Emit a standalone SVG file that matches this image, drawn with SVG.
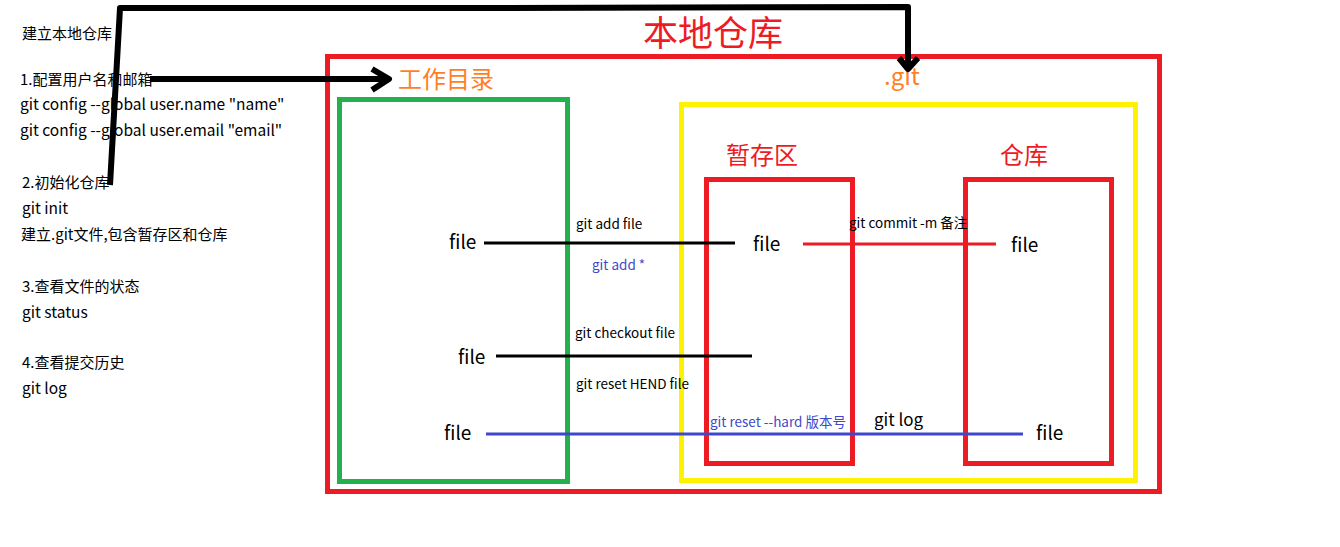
<svg xmlns="http://www.w3.org/2000/svg" width="1340" height="547" viewBox="0 0 1340 547">
<style>
text{font-family:"Noto Sans CJK SC","Noto Sans",sans-serif;fill:#000}
.note{font-size:15px}
.cmd{font-size:15.5px}
.lbl{font-size:13.5px}
.file{font-size:19px}
.blue{fill:#3f48cc}
.red{fill:#ed1c24}
.orange{fill:#ff7f27}
.box{fill:none;stroke-width:5}
.conn{fill:none;stroke-width:3}
.thick{fill:none;stroke:#000;stroke-width:6;stroke-linejoin:round}
</style>
<rect width="1340" height="547" fill="#fff"/>
<g id="notes">
<text class="note" x="22" y="39">建立本地仓库</text>
<text class="note" x="20" y="85">1.配置用户名和邮箱</text>
<text class="cmd" x="20" y="110">git config --global user.name "name"</text>
<text class="cmd" x="20" y="136">git config --global user.email "email"</text>
<text class="note" x="22" y="188">2.初始化仓库</text>
<text class="cmd" x="22" y="214">git init</text>
<text class="note" x="21" y="240">建立.git文件,包含暂存区和仓库</text>
<text class="note" x="22" y="292">3.查看文件的状态</text>
<text class="cmd" x="22" y="318">git status</text>
<text class="note" x="22" y="368">4.查看提交历史</text>
<text class="cmd" x="22" y="394">git log</text>
</g>
<g id="local-repo">
<rect class="box" x="327.5" y="56.5" width="832" height="435" stroke="#ed1c24"/>
<text class="red" x="643" y="46" font-size="35">本地仓库</text>
</g>
<g id="workdir">
<rect class="box" x="339.5" y="99.5" width="228" height="382" stroke="#22b14c"/>
<text class="orange" x="398" y="88" font-size="24">工作目录</text>
<text class="file" x="449" y="249">file</text>
<text class="file" x="458" y="364">file</text>
<text class="file" x="444" y="440">file</text>
</g>
<g id="git-dir">
<rect class="box" x="681.5" y="104.5" width="454" height="376" stroke="#fff200"/>
<text class="orange" x="884" y="85" font-size="24">.git</text>
</g>
<g id="staging">
<rect class="box" x="706.5" y="179.5" width="146" height="284" stroke="#ed1c24"/>
<text class="red" x="726" y="164" font-size="24">暂存区</text>
<text class="file" x="753" y="251">file</text>
</g>
<g id="repo">
<rect class="box" x="965.5" y="179.5" width="146" height="284" stroke="#ed1c24"/>
<text class="red" x="1000" y="164" font-size="24">仓库</text>
<text class="file" x="1011" y="252">file</text>
<text class="file" x="1036" y="440">file</text>
</g>
<g id="connectors">
<path class="thick" d="M110,185 L120,8 L482,8 L908,7 L908,68"/>
<path class="thick" d="M899,58 L908,69 L918,58"/>
<path class="thick" d="M150,79 L388,79"/>
<path class="thick" d="M372,69 L389,79 L372,90"/>
<path class="conn" stroke="#000" d="M484,243 L735,243"/>
<path class="conn" stroke="#ed1c24" d="M803,244 L996,244"/>
<path class="conn" stroke="#000" d="M496,356 L752,356"/>
<path class="conn" stroke="#3f48cc" d="M486,434 L1023,434"/>
<text class="lbl" x="576" y="229">git add file</text>
<text class="lbl blue" x="592" y="270">git add *</text>
<text class="lbl" x="849" y="228">git commit -m 备注</text>
<text class="lbl" x="575" y="338">git checkout file</text>
<text class="lbl" x="576" y="389">git reset HEND file</text>
<text class="lbl blue" x="710" y="427">git reset --hard 版本号</text>
<text x="874" y="426" font-size="17">git log</text>
</g>
</svg>
